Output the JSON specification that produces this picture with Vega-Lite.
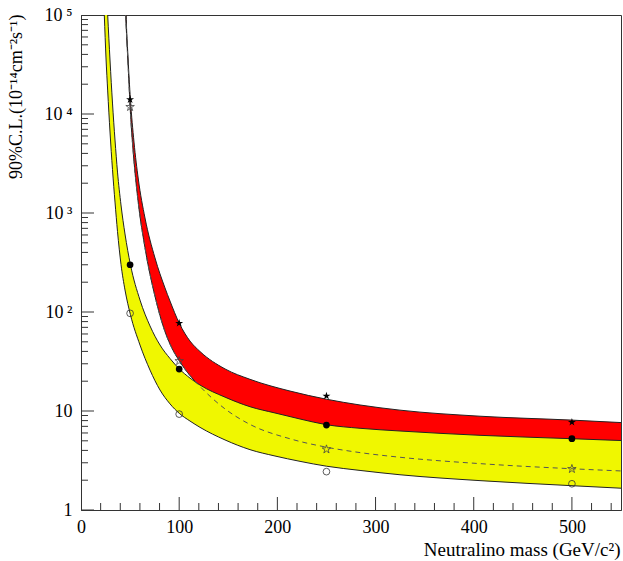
{
  "$schema": "https://vega.github.io/schema/vega-lite/v6.json",
  "width": 540,
  "height": 495,
  "autosize": "none",
  "padding": {"left": 81, "top": 15, "right": 2, "bottom": 51},
  "background": "white",
  "config": {"view": {"stroke": "#333", "strokeWidth": 1}, "font": "Liberation Serif"},
  "datasets": {
    "red": [
      {"m": 45.43, "a": 200000, "e": 100000},
      {"m": 46.04, "a": 100000, "e": 75700},
      {"m": 47.87, "a": 37700, "e": 32700},
      {"m": 50.31, "a": 14190, "e": 10500},
      {"m": 53.98, "a": 5210, "e": 3330},
      {"m": 58.36, "a": 2205, "e": 1262},
      {"m": 65.18, "a": 890, "e": 445},
      {"m": 75.37, "a": 351, "e": 144},
      {"m": 85.55, "a": 175, "e": 63.4},
      {"m": 90.65, "a": 129, "e": 47.4},
      {"m": 100.12, "a": 76.9, "e": 32.1},
      {"m": 111.0, "a": 50.9, "e": 22.8},
      {"m": 121.2, "a": 39.9, "e": 17.7},
      {"m": 146.7, "a": 26.6, "e": 10.5},
      {"m": 172.1, "a": 20.9, "e": 7.32},
      {"m": 212.9, "a": 15.9, "e": 5.24},
      {"m": 250.0, "a": 13.15, "e": 4.31},
      {"m": 284.2, "a": 11.5, "e": 3.8},
      {"m": 324.9, "a": 10.2, "e": 3.41},
      {"m": 406.4, "a": 8.86, "e": 2.94},
      {"m": 500.1, "a": 8.09, "e": 2.61},
      {"m": 550, "a": 7.64, "e": 2.48}
    ],
    "yellow": [
      {"m": 23.73, "c": 575000, "d": 100000},
      {"m": 25.46, "c": 235000, "d": 36800},
      {"m": 27.19, "c": 100000, "d": 17100},
      {"m": 29.54, "c": 35100, "d": 6580},
      {"m": 32.08, "c": 12900, "d": 2750},
      {"m": 34.63, "c": 5460, "d": 1290},
      {"m": 37.18, "c": 2590, "d": 650},
      {"m": 40.74, "c": 1205, "d": 303},
      {"m": 44.81, "c": 614, "d": 167},
      {"m": 50.31, "c": 302, "d": 94.2},
      {"m": 60.09, "c": 132, "d": 46.4},
      {"m": 70.28, "c": 72.3, "d": 25.9},
      {"m": 80.46, "c": 46.4, "d": 16.3},
      {"m": 90.65, "c": 33.9, "d": 11.8},
      {"m": 100.12, "c": 26.6, "d": 9.46},
      {"m": 111.0, "c": 21.5, "d": 7.92},
      {"m": 121.2, "c": 18.3, "d": 6.84},
      {"m": 146.7, "c": 13.8, "d": 5.1},
      {"m": 172.1, "c": 11.05, "d": 4.07},
      {"m": 197.6, "c": 9.55, "d": 3.51},
      {"m": 223.1, "c": 8.3, "d": 3.1},
      {"m": 250.0, "c": 7.27, "d": 2.77},
      {"m": 284.2, "c": 6.69, "d": 2.51},
      {"m": 324.9, "c": 6.28, "d": 2.27},
      {"m": 406.4, "c": 5.68, "d": 1.98},
      {"m": 500.1, "c": 5.25, "d": 1.76},
      {"m": 550, "c": 5.03, "d": 1.66}
    ],
    "markers": [
      {"m": 50, "v": 14000, "k": "fs"},
      {"m": 100, "v": 77, "k": "fs"},
      {"m": 250, "v": 14.2, "k": "fs"},
      {"m": 500, "v": 7.7, "k": "fs"},
      {"m": 50, "v": 11800, "k": "os"},
      {"m": 100, "v": 32, "k": "os"},
      {"m": 250, "v": 4.1, "k": "os"},
      {"m": 500, "v": 2.6, "k": "os"},
      {"m": 50, "v": 300, "k": "fc"},
      {"m": 100, "v": 26.5, "k": "fc"},
      {"m": 250, "v": 7.2, "k": "fc"},
      {"m": 500, "v": 5.25, "k": "fc"},
      {"m": 50, "v": 97, "k": "oc"},
      {"m": 100, "v": 9.3, "k": "oc"},
      {"m": 250, "v": 2.44, "k": "oc"},
      {"m": 500, "v": 1.84, "k": "oc"}
    ],
    "xticks": [
      {"t": 0}, {"t": 20}, {"t": 40}, {"t": 60}, {"t": 80}, {"t": 100}, {"t": 120}, {"t": 140}, {"t": 160}, {"t": 180},
      {"t": 200}, {"t": 220}, {"t": 240}, {"t": 260}, {"t": 280}, {"t": 300}, {"t": 320}, {"t": 340}, {"t": 360}, {"t": 380},
      {"t": 400}, {"t": 420}, {"t": 440}, {"t": 460}, {"t": 480}, {"t": 500}, {"t": 520}, {"t": 540}
    ],
    "yticks": [
      {"t": 1}, {"t": 2}, {"t": 3}, {"t": 4}, {"t": 5}, {"t": 6}, {"t": 7}, {"t": 8}, {"t": 9},
      {"t": 10}, {"t": 20}, {"t": 30}, {"t": 40}, {"t": 50}, {"t": 60}, {"t": 70}, {"t": 80}, {"t": 90},
      {"t": 100}, {"t": 200}, {"t": 300}, {"t": 400}, {"t": 500}, {"t": 600}, {"t": 700}, {"t": 800}, {"t": 900},
      {"t": 1000}, {"t": 2000}, {"t": 3000}, {"t": 4000}, {"t": 5000}, {"t": 6000}, {"t": 7000}, {"t": 8000}, {"t": 9000},
      {"t": 10000}, {"t": 20000}, {"t": 30000}, {"t": 40000}, {"t": 50000}, {"t": 60000}, {"t": 70000}, {"t": 80000}, {"t": 90000},
      {"t": 100000}
    ]
  },
  "layer": [
    {
      "data": {"name": "red"},
      "mark": {"type": "area", "color": "#ff0000", "clip": true, "interpolate": "monotone"},
      "encoding": {
        "x": {
          "field": "m", "type": "quantitative",
          "scale": {"domain": [0, 550], "nice": false, "zero": false},
          "axis": {
            "values": [0, 100, 200, 300, 400, 500],
            "ticks": false,
            "domainColor": "#333",
            "grid": false,
            "labelFont": "Liberation Serif",
            "labelFontSize": 18,
            "labelColor": "black",
            "labelPadding": 8,
            "labelFlush": false,
            "labelOverlap": false,
            "title": "Neutralino mass (GeV/c²)",
            "titleFont": "Liberation Serif",
            "titleFontSize": 19,
            "titleFontWeight": "normal",
            "titleColor": "black",
            "titleAnchor": "end",
            "titleAlign": "right",
            "titleBaseline": "alphabetic",
            "titleX": 539,
            "titleY": 45
          }
        },
        "y": {
          "field": "a", "type": "quantitative",
          "scale": {"type": "log", "domain": [1, 100000], "nice": false},
          "axis": {
            "values": [1, 10, 100, 1000, 10000, 100000],
            "labelExpr": "datum.value == 1 ? '1\u00a0\u00a0' : datum.value == 10 ? '10\u00a0\u00a0' : datum.value == 100 ? '10\u2009²' : datum.value == 1000 ? '10\u2009³' : datum.value == 10000 ? '10\u2009⁴' : '10\u2009⁵'",
            "ticks": false,
            "domainColor": "#333",
            "grid": false,
            "labelFont": "Liberation Serif",
            "labelFontSize": 18,
            "labelColor": "black",
            "labelPadding": 9,
            "labelFlush": false,
            "labelOverlap": false,
            "title": "90%C.L.(10⁻¹⁴cm⁻²s⁻¹)",
            "titleFont": "Liberation Serif",
            "titleFontSize": 18,
            "titleFontWeight": "normal",
            "titleColor": "black",
            "titleAnchor": "end",
            "titleAlign": "right",
            "titleBaseline": "alphabetic",
            "titleAngle": -90,
            "titleX": -60,
            "titleY": -1
          }
        },
        "y2": {"field": "e"}
      }
    },
    {
      "data": {"name": "red"},
      "mark": {"type": "line", "color": "#222", "strokeWidth": 1, "clip": true, "interpolate": "monotone"},
      "encoding": {
        "x": {"field": "m", "type": "quantitative"},
        "y": {"field": "a", "type": "quantitative"}
      }
    },
    {
      "data": {"name": "red"},
      "mark": {"type": "line", "color": "#222", "strokeWidth": 1, "clip": true, "interpolate": "monotone"},
      "encoding": {
        "x": {"field": "m", "type": "quantitative"},
        "y": {"field": "e", "type": "quantitative"}
      }
    },
    {
      "data": {"name": "yellow"},
      "mark": {"type": "area", "color": "#f0f700", "opacity": 1, "clip": true, "interpolate": "monotone"},
      "encoding": {
        "x": {"field": "m", "type": "quantitative"},
        "y": {"field": "c", "type": "quantitative"},
        "y2": {"field": "d"}
      }
    },
    {
      "data": {"name": "yellow"},
      "mark": {"type": "line", "color": "#222", "strokeWidth": 1, "clip": true, "interpolate": "monotone"},
      "encoding": {
        "x": {"field": "m", "type": "quantitative"},
        "y": {"field": "c", "type": "quantitative"}
      }
    },
    {
      "data": {"name": "yellow"},
      "mark": {"type": "line", "color": "#222", "strokeWidth": 1, "clip": true, "interpolate": "monotone"},
      "encoding": {
        "x": {"field": "m", "type": "quantitative"},
        "y": {"field": "d", "type": "quantitative"}
      }
    },
    {
      "data": {"name": "red"},
      "mark": {"type": "line", "color": "#555", "strokeWidth": 1, "strokeDash": [5, 4], "clip": true, "interpolate": "monotone"},
      "encoding": {
        "x": {"field": "m", "type": "quantitative"},
        "y": {"field": "e", "type": "quantitative"}
      }
    },
    {
      "data": {"name": "markers"},
      "transform": [{"filter": "datum.k == 'fs'"}],
      "mark": {"type": "point", "shape": "M0,-1L0.2245,-0.309L0.951,-0.309L0.363,0.118L0.588,0.809L0,0.382L-0.588,0.809L-0.363,0.118L-0.951,-0.309L-0.2245,-0.309Z", "filled": true, "color": "black", "size": 70, "opacity": 1},
      "encoding": {
        "x": {"field": "m", "type": "quantitative"},
        "y": {"field": "v", "type": "quantitative"}
      }
    },
    {
      "data": {"name": "markers"},
      "transform": [{"filter": "datum.k == 'os'"}],
      "mark": {"type": "point", "shape": "M0,-1L0.2245,-0.309L0.951,-0.309L0.363,0.118L0.588,0.809L0,0.382L-0.588,0.809L-0.363,0.118L-0.951,-0.309L-0.2245,-0.309Z", "filled": false, "color": "#444", "strokeWidth": 0.8, "size": 80, "opacity": 1},
      "encoding": {
        "x": {"field": "m", "type": "quantitative"},
        "y": {"field": "v", "type": "quantitative"}
      }
    },
    {
      "data": {"name": "markers"},
      "transform": [{"filter": "datum.k == 'fc'"}],
      "mark": {"type": "point", "shape": "circle", "filled": true, "color": "black", "size": 45, "opacity": 1},
      "encoding": {
        "x": {"field": "m", "type": "quantitative"},
        "y": {"field": "v", "type": "quantitative"}
      }
    },
    {
      "data": {"name": "markers"},
      "transform": [{"filter": "datum.k == 'oc'"}],
      "mark": {"type": "point", "shape": "circle", "filled": false, "color": "#333", "strokeWidth": 0.8, "size": 45, "opacity": 1},
      "encoding": {
        "x": {"field": "m", "type": "quantitative"},
        "y": {"field": "v", "type": "quantitative"}
      }
    },
    {
      "data": {"name": "xticks"},
      "mark": {"type": "tick", "orient": "vertical", "color": "#333", "thickness": 1, "clip": true, "opacity": 1},
      "encoding": {
        "x": {"field": "t", "type": "quantitative"},
        "y": {"datum": 1, "type": "quantitative"},
        "size": {"condition": {"test": "datum.t % 100 === 0", "value": 26}, "value": 14}
      }
    },
    {
      "data": {"name": "yticks"},
      "mark": {"type": "tick", "orient": "horizontal", "color": "#333", "thickness": 1, "clip": true, "opacity": 1},
      "encoding": {
        "y": {"field": "t", "type": "quantitative"},
        "x": {"datum": 0, "type": "quantitative"},
        "size": {"condition": {"test": "indexof([1, 10, 100, 1000, 10000, 100000], datum.t) >= 0", "value": 26}, "value": 14}
      }
    }
  ]
}
